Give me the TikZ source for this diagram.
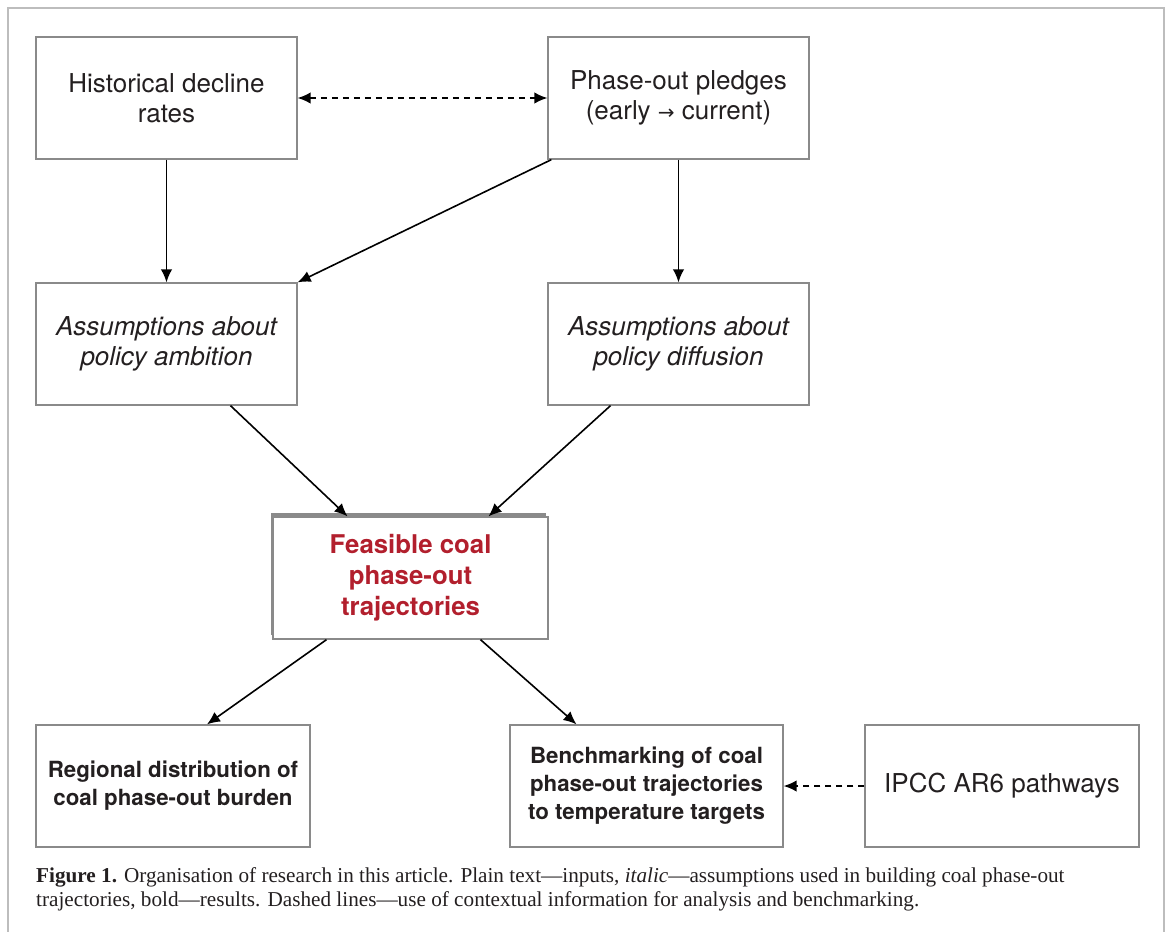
\documentclass[tikz,border=0pt]{standalone}
\usepackage{fontspec}
\setmainfont{Liberation Serif}
\newfontfamily\hv{TeX Gyre Heros}
\newfontfamily\dvs{DejaVu Sans}
\usetikzlibrary{arrows.meta,calc}
\definecolor{boxgray}{HTML}{8A8A8A}
\definecolor{framegray}{HTML}{BDBDBD}
\definecolor{resred}{HTML}{B21F2D}
\definecolor{txt}{HTML}{231F20}
\tikzset{
  box/.style={draw=boxgray, line width=1.3pt, rectangle, minimum width=261pt, minimum height=122pt, inner sep=0pt, align=center, text=txt, font=\hv\fontsize{26}{29.5}\selectfont},
  resbox/.style={box, font=\hv\bfseries\fontsize{22.3}{28}\selectfont},
  arr/.style={line width=1.6pt, -{Latex[length=13pt,width=11.5pt]}},
  darr/.style={arr, dash pattern=on 6pt off 5pt},
  ddarr/.style={darr, {Latex[length=13pt,width=11.5pt]}-{Latex[length=13pt,width=11.5pt]}}
}
\begin{document}
\begin{tikzpicture}[x=1pt,y=-1pt]
\useasboundingbox (0,0) rectangle (1168,932);
\draw[framegray, line width=1.5pt] (8,932) -- (8,8) -- (1164,8) -- (1164,932);
\node[box] (hist) at (166.5,98) {Historical decline\\rates};
\node[box] (pled) at (678.5,98) {Phase-out pledges\\(early {\dvs\fontsize{20}{20}\selectfont→} current)};
\node[box] (amb) at (166.5,344) {\itshape Assumptions about\\\itshape policy ambition};
\node[box] (dif) at (678.5,344) {\itshape Assumptions about\\\itshape policy diffusion};
\fill[boxgray] (271,513) rectangle (546,635);
\node[box, minimum width=275pt, fill=white, text=resred, font=\hv\bfseries\fontsize{25.8}{31}\selectfont] (feas) at (410.5,578) {Feasible coal\\phase-out\\trajectories};
\node[resbox, minimum width=274pt] (reg) at (173,786) {Regional distribution of\\coal phase-out burden};
\node[resbox, minimum width=273pt] (bench) at (646.5,786) {Benchmarking of coal\\phase-out trajectories\\to temperature targets};
\node[box, minimum width=274pt] (ipcc) at (1002,786) {IPCC AR6 pathways};
\draw[ddarr] (hist.east) -- (pled.west);
\draw[arr] (hist.south) -- (amb.north);
\draw[arr] ($(pled.south west)+(4,0)$) -- (amb.north east);
\draw[arr] (pled.south) -- (dif.north);
\draw[arr] ($(amb.south)+(64,0)$) -- ($(feas.north)+(-63,0)$);
\draw[arr] ($(dif.south)+(-68,0)$) -- ($(feas.north)+(78,0)$);
\draw[arr] ($(feas.south)+(-84,0)$) -- ($(reg.north)+(34,0)$);
\draw[arr] ($(feas.south)+(70,0)$) -- ($(bench.north)+(-70,0)$);
\draw[darr] (ipcc.west) -- (bench.east);
\node[anchor=north west, inner sep=0pt, align=left, text=txt, font=\fontsize{21.2}{24}\selectfont] (cap) at (36,867) {\textbf{Figure 1.} Organisation of research in this article. Plain text---inputs, \textit{italic}---assumptions used in building coal phase-out\\trajectories, bold---results. Dashed lines---use of contextual information for analysis and benchmarking.};
\end{tikzpicture}
\end{document}
